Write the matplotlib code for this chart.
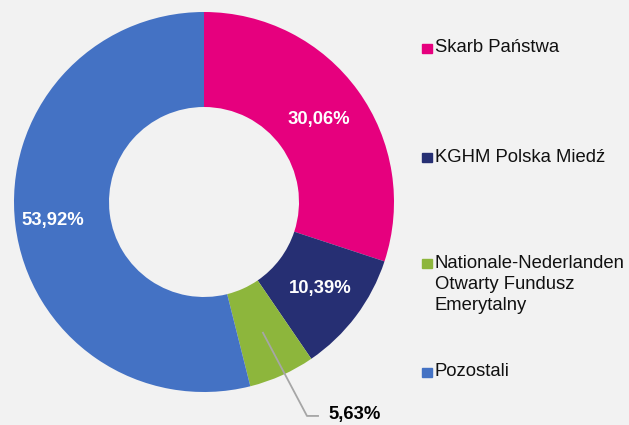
import numpy as np
import matplotlib; matplotlib.use("Agg"); import matplotlib.pyplot as plt
from matplotlib.patches import Rectangle

plt.rcParams["font.family"] = ["Liberation Sans", "DejaVu Sans"]

NAMES = ["Skarb Państwa", "KGHM Polska Miedź",
         "Nationale-Nederlanden\nOtwarty Fundusz\nEmerytalny", "Pozostali"]
VALUES = [30.06, 10.39, 5.63, 53.92]
LABELS = ["30,06%", "10,39%", "5,63%", "53,92%"]
COLORS = ["#E6007E", "#262F73", "#8DB63C", "#4472C4"]
BG = "#F2F2F2"

W, H = 629, 425
fig = plt.figure(figsize=(W / 100, H / 100), dpi=100, facecolor=BG)
ax = fig.add_axes([14 / W, (H - 392) / H, 380 / W, 380 / H])
ax.set_facecolor(BG)
ax.pie(VALUES, colors=COLORS, startangle=90, counterclock=False,
       radius=1.0, wedgeprops=dict(width=0.5, linewidth=0))
ax.set_xlim(-1, 1); ax.set_ylim(-1, 1); ax.set_aspect("equal"); ax.axis("off")

# labels inside the ring (white); the small slice gets a leader line
lab_r = [0.745, 0.762, 0.75, 0.80]
cum = np.cumsum([0] + VALUES[:-1])
for i, (v, c0) in enumerate(zip(VALUES, cum)):
    ang = np.deg2rad(90 - (c0 + v / 2) * 3.6)
    x, y = lab_r[i] * np.cos(ang), lab_r[i] * np.sin(ang)
    if i == 2:
        ax.plot([x, 0.542, 0.605], [y, -1.126, -1.126], color="#A6A6A6", lw=1.3,
                clip_on=False, solid_capstyle="butt")
        ax.text(0.653, -1.12, LABELS[i], ha="left", va="center", fontsize=13.3,
                fontweight="bold", color="black", clip_on=False)
    else:
        ax.text(x, y, LABELS[i], ha="center", va="center", fontsize=13.3,
                fontweight="bold", color="white")

# legend, placed by hand like the original
leg_y = [48, 157, 263, 372]
for name, col, py in zip(NAMES, COLORS, leg_y):
    fig.patches.append(Rectangle((422 / W, (H - py - 4.5) / H), 9.5 / W, 9 / H,
                                 transform=fig.transFigure, color=col))
    if "\n" in name:
        fig.text(435 / W, (H - py + 8) / H, name, ha="left", va="top", fontsize=13.3,
                 color="#111111", linespacing=1.31)
    else:
        fig.text(435 / W, (H - py) / H, name, ha="left", va="center", fontsize=13.3,
                 color="#111111")

fig.savefig("out.png", dpi=100, facecolor=BG)
